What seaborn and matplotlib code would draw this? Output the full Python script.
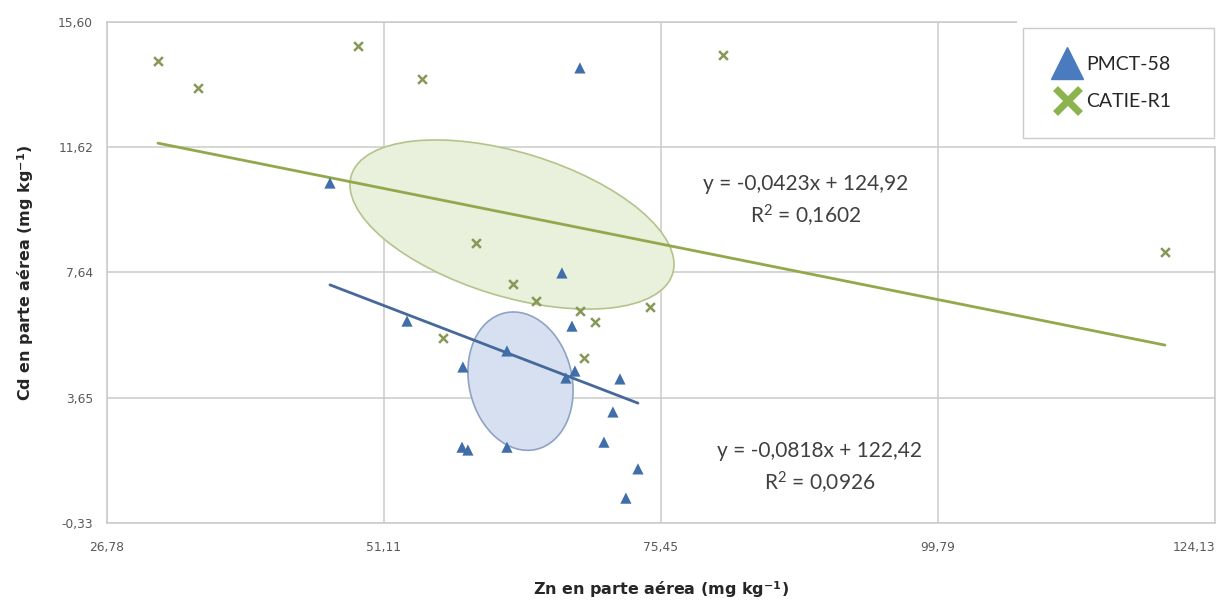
import numpy as np
import pandas as pd
import seaborn as sns
import matplotlib.pyplot as plt
from matplotlib.patches import Ellipse, Rectangle
from matplotlib.lines import Line2D
from matplotlib.transforms import ScaledTranslation

#---- values ----#
pmct_zn = [68.33, 46.37, 66.75, 67.63, 53.14, 61.92, 58.05, 67.89, 67.10,
           71.85, 71.23, 70.44, 57.97, 58.49, 61.92, 73.43, 72.37]
pmct_cd = [14.14, 10.48, 7.62, 5.93, 6.09, 5.14, 4.63, 4.50, 4.28,
           4.25, 3.20, 2.24, 2.08, 1.99, 2.08, 1.39, 0.46]

catie_zn = [31.26, 34.77, 48.83, 54.45, 80.90, 59.20, 62.45, 64.47, 68.33,
            69.65, 74.48, 68.68, 56.30, 119.73]
catie_cd = [14.36, 13.50, 14.84, 13.79, 14.55, 8.57, 7.27, 6.73, 6.41,
            6.06, 6.54, 4.92, 5.55, 8.29]

clones = ['PMCT-58', 'CATIE-R1']
x_ticks = [26.78, 51.11, 75.45, 99.79, 124.13]
y_ticks = [-0.33, 3.65, 7.64, 11.62, 15.60]

eq_pmct = 'y = -0,0818x + 122,42\nR$^2$ = 0,0926'
eq_catie = 'y = -0,0423x + 124,92\nR$^2$ = 0,1602'

# centres of the highlighted groups (data units)
ell_catie = [62.36, 9.16]
ell_pmct = [63.11, 4.18]

BLUE = '#3f6ea8'
BLUE_LINE = '#46689a'
GREEN = '#879858'
GREEN_LINE = '#93a84c'
GRID = '#cacaca'


def comma(v):
    return f'{v:.2f}'.replace('.', ',')


df = pd.DataFrame({
    'zn': pmct_zn + catie_zn,
    'cd': pmct_cd + catie_cd,
    'clon': [clones[0]] * len(pmct_zn) + [clones[1]] * len(catie_zn),
})
pm = df[df.clon == clones[0]]
ca = df[df.clon == clones[1]]

sns.set_style('white')
plt.rcParams['font.family'] = ['DejaVu Sans']
plt.rcParams['mathtext.fontset'] = 'custom'
plt.rcParams['mathtext.rm'] = 'Lato'
plt.rcParams['mathtext.it'] = 'Lato'
plt.rcParams['mathtext.bf'] = 'DejaVu Sans:bold'
plt.rcParams['mathtext.default'] = 'rm'

fig, ax = plt.subplots(figsize=(12.26, 6.03), dpi=100)
fig.subplots_adjust(left=0.0873, right=0.991, top=0.9635, bottom=0.1327)

# ellipses (fixed size on the page, centred on data positions)
for centre, w, h, ang, fc, ec in [
        (ell_catie, 3.36, 1.44, -17, '#e9f0dc', '#b3c48a'),
        (ell_pmct, 1.40, 1.03, -77, '#d6e0f0', '#8ea3c6')]:
    tr = fig.dpi_scale_trans + ScaledTranslation(centre[0], centre[1], ax.transData)
    ax.add_patch(Ellipse((0, 0), w, h, angle=ang, transform=tr,
                         facecolor=fc, edgecolor=ec, lw=1.2, zorder=1.5))

sns.regplot(data=ca, x='zn', y='cd', scatter=False, ci=None, truncate=True,
            color=GREEN_LINE, line_kws={'lw': 2, 'zorder': 2.5}, ax=ax)
sns.regplot(data=pm, x='zn', y='cd', scatter=False, ci=None, truncate=True,
            color=BLUE_LINE, line_kws={'lw': 2, 'zorder': 2.5}, ax=ax)

sns.scatterplot(data=pm, x='zn', y='cd', marker='^', s=65, color=BLUE,
                edgecolor='none', zorder=4, legend=False, ax=ax)
sns.scatterplot(data=ca, x='zn', y='cd', marker='x', s=40, color=GREEN,
                linewidth=1.8, zorder=4, legend=False, ax=ax)

ax.set_xlim(x_ticks[0], x_ticks[-1])
ax.set_ylim(y_ticks[0], y_ticks[-1])
ax.set_xticks(x_ticks)
ax.set_xticklabels([comma(v) for v in x_ticks])
ax.get_xticklabels()[-1].set_ha('right')
ax.set_yticks(y_ticks)
ax.set_yticklabels([comma(v) for v in y_ticks])
ax.grid(True, color=GRID, lw=1.1)
ax.set_axisbelow(True)
for sp in ax.spines.values():
    sp.set_color(GRID)
    sp.set_linewidth(1.1)
ax.tick_params(length=5, color=GRID, labelcolor='#595959', labelsize=8.8)
ax.tick_params(axis='x', pad=8)
ax.tick_params(axis='y', pad=5)

ax.set_xlabel('Zn en parte aérea (mg kg$^{\\mathbf{-1}}$)', fontweight='bold',
              fontsize=11.5, labelpad=18)
ax.set_ylabel('Cd en parte aérea (mg kg$^{\\mathbf{-1}}$)', fontweight='bold',
              fontsize=11.5, labelpad=16)

ax.text(88.2, 9.9, eq_catie, ha='center', va='center', fontsize=15,
        color='#404040', family=['Lato', 'DejaVu Sans'], linespacing=1.45)
ax.text(89.4, 1.4, eq_pmct, ha='center', va='center', fontsize=15,
        color='#404040', family=['Lato', 'DejaVu Sans'], linespacing=1.45,
        bbox=dict(facecolor='white', edgecolor='none', pad=6), zorder=5)

# white area behind the legend
fig.add_artist(Rectangle((1017 / 1226, 1 - 146 / 603), 209 / 1226, 146 / 603,
                         transform=fig.transFigure, facecolor='white',
                         edgecolor='none', zorder=5))
handles = [
    Line2D([], [], marker='^', ls='none', color='#4a7bbf', markersize=23),
    Line2D([], [], marker='x', ls='none', color='#8cb44e', markersize=18, mew=5),
]
leg = fig.legend(handles, clones, loc='upper left',
                 bbox_to_anchor=(1023 / 1226, 1 - 138 / 603, 191 / 1226, 110 / 603),
                 mode='expand', frameon=True, fancybox=False, edgecolor='#bfbfbf',
                 fontsize=14, handletextpad=0.2, handlelength=1.6, borderpad=1.45,
                 labelspacing=1.0, borderaxespad=0)
leg.set_zorder(6)
for t in leg.get_texts():
    t.set_color('#262626')
    t.set_family(['Lato', 'DejaVu Sans'])

fig.savefig('out.png', dpi=100)
